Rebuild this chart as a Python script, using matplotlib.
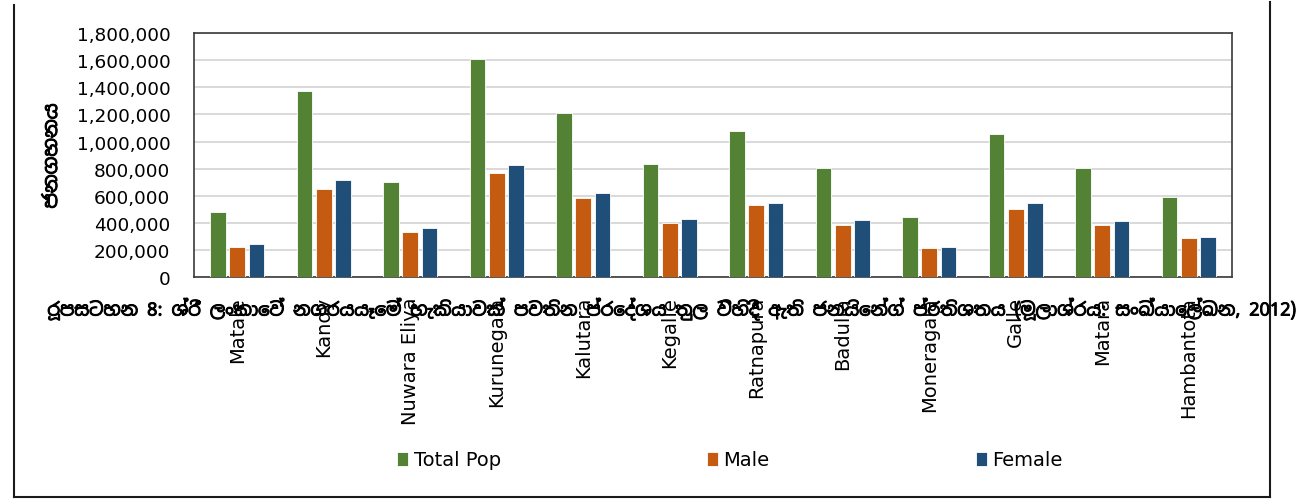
import numpy as np
import matplotlib
matplotlib.use("Agg")
import matplotlib.pyplot as plt
import matplotlib.patheffects as pe
from matplotlib import font_manager
from matplotlib.ft2font import FT2Font
from matplotlib.lines import Line2D
from matplotlib.ticker import FuncFormatter, MultipleLocator

# District populations, Sri Lanka census 2012
districts = ["Matale", "Kandy", "Nuwara Eliya", "Kurunegala", "Kalutara", "Kegalle",
             "Ratnapura", "Badulla", "Moneragala", "Galle", "Matara", "Hambantota"]
total_pop = [478000, 1370000, 701000, 1610000, 1213000, 833000,
             1078000, 809000, 443000, 1054000, 804000, 593000]
male = [225000, 647000, 333000, 772000, 585000, 397000,
        532000, 385000, 215000, 504000, 385000, 289000]
female = [243000, 715000, 362000, 831000, 622000, 431000,
          544000, 419000, 221000, 546000, 414000, 296000]

series_names = ["Total Pop", "Male", "Female"]
series_colors = ["#548235", "#C55A11", "#1F4E79"]

y_label = "ජනගහනය"
caption = ("රූපසටහන 8: ශ්‍රී ලංකාවේ නගරයයෑමේ හැකියාවක් පවතින ප්‍රදේශය තුල "
           "විහිදී ඇති ජනයින්ගේ ප්‍රතිශතය (මූලාශ්‍රය: සංඛ්‍යාලේඛන, 2012)")


def sinhala_font(bold=True):
    """Pick the best installed font file that covers the Sinhala block."""
    best, best_score = None, None
    for entry in font_manager.fontManager.ttflist:
        try:
            cmap = FT2Font(entry.fname).get_charmap()
        except Exception:
            continue
        if not (0x0DA2 in cmap and 0x0DC4 in cmap):
            continue
        name = entry.name.lower()
        score = 0
        score += 4 if "sinhala" in name else 0
        score -= 4 if "mono" in name else 0
        score -= 2 if "ui" in name.split() else 0
        w = entry.weight if isinstance(entry.weight, int) else 400
        score += (1 if w >= 600 else 0) if bold else (1 if w < 600 else 0)
        score -= 1 if entry.style != "normal" else 0
        if best_score is None or score > best_score:
            best, best_score = entry, score
    return best


def visual_order(text):
    """matplotlib draws glyphs in logical order without shaping, so put the
    Sinhala kombuva in front of its consonant cluster and drop ZWJ."""
    split = {"\u0DDA": "\u0DD9\u0DCA",
             "\u0DDC": "\u0DD9\u0DCF", "\u0DDD": "\u0DD9\u0DCF\u0DCA",
             "\u0DDE": "\u0DD9\u0DDF"}
    chars = []
    for ch in text.replace("\u200d", ""):
        chars.extend(split.get(ch, ch))
    out = []
    for ch in chars:
        if ch in "\u0DD9\u0DDB" and out:
            j = len(out) - 1
            while j > 0 and out[j - 1] == "\u0DCA":
                j -= 2
            out.insert(max(j, 0), ch)
        else:
            out.append(ch)
    return "".join(out)


si_entry = sinhala_font(bold=True)
if si_entry is not None:
    si_prop = font_manager.FontProperties(fname=si_entry.fname)
    si_is_bold = isinstance(si_entry.weight, int) and si_entry.weight >= 600
else:
    si_prop = font_manager.FontProperties(family="DejaVu Sans", weight="bold")
    si_is_bold = True
heavy = [] if si_is_bold else [pe.withStroke(linewidth=0.7, foreground="black")]

plt.rcParams["font.family"] = ["DejaVu Sans"]

W, H = 1305, 502
fig = plt.figure(figsize=(W / 100, H / 100), dpi=100)
ax = fig.add_axes([194 / W, 1 - 278.3 / H, (1232 - 194) / W, (278.3 - 34) / H])

x = np.arange(len(districts))
bar_w = 0.18
step = 0.223
for i, (vals, name, col) in enumerate(zip([total_pop, male, female], series_names, series_colors)):
    ax.bar(x + (i - 1) * step, vals, width=bar_w, color=col, edgecolor="white",
           linewidth=0.6, label=name, zorder=3)

ax.set_xlim(-0.5, len(districts) - 0.5)
ax.set_ylim(0, 1800000)
ax.yaxis.set_major_locator(MultipleLocator(200000))
ax.yaxis.set_major_formatter(FuncFormatter(lambda v, p: f"{int(v):,}"))
ax.grid(axis="y", color="#D9D9D9", linewidth=1.4, zorder=0)
ax.set_axisbelow(True)

for sp in ax.spines.values():
    sp.set_color("#3A3A3A")
    sp.set_linewidth(1.2)

ax.set_xticks(x)
ax.set_xticklabels(districts, rotation=90, ha="center", va="top", fontsize=14)
ax.tick_params(axis="x", length=0, pad=13.5)
ax.tick_params(axis="y", length=0, pad=17, labelsize=13.3)

ylab = fig.text(52 / W, 1 - 157 / H, visual_order(y_label), rotation=90,
                ha="center", va="center", fontproperties=si_prop.copy(),
                path_effects=heavy)
ylab.set_fontsize(13)

cap = fig.text(671 / W, 1 - 310 / H, visual_order(caption), ha="center", va="center",
               fontproperties=si_prop.copy(), zorder=5, path_effects=heavy)
cap.set_fontsize(12.5)

fig.legend(*ax.get_legend_handles_labels(), loc="center",
           bbox_to_anchor=(730 / W, 1 - 461 / H), ncol=3, frameon=False,
           fontsize=14, handlelength=0.55, handleheight=0.75,
           handletextpad=0.3, columnspacing=10.6)

# Size the Sinhala texts to their available span
renderer = fig.canvas.get_renderer()
cap_w = cap.get_window_extent(renderer).width
cap.set_fontsize(cap.get_fontsize() * 1250 / cap_w)
lab_h = ylab.get_window_extent(renderer).height
ylab.set_fontsize(ylab.get_fontsize() * 105 / lab_h)

# Outer chart frame (left, right, bottom edges)
frame_kw = dict(color="#1A1A1A", linewidth=1.5, transform=fig.transFigure)
fig.add_artist(Line2D([14 / W, 14 / W], [1 - 6 / H, 1 - 498 / H], **frame_kw))
fig.add_artist(Line2D([1270 / W, 1270 / W], [1 - 3 / H, 1 - 498 / H], **frame_kw))
fig.add_artist(Line2D([14 / W, 1270 / W], [1 - 498 / H, 1 - 498 / H], **frame_kw))

fig.savefig("out.png", dpi=100, facecolor="white")
